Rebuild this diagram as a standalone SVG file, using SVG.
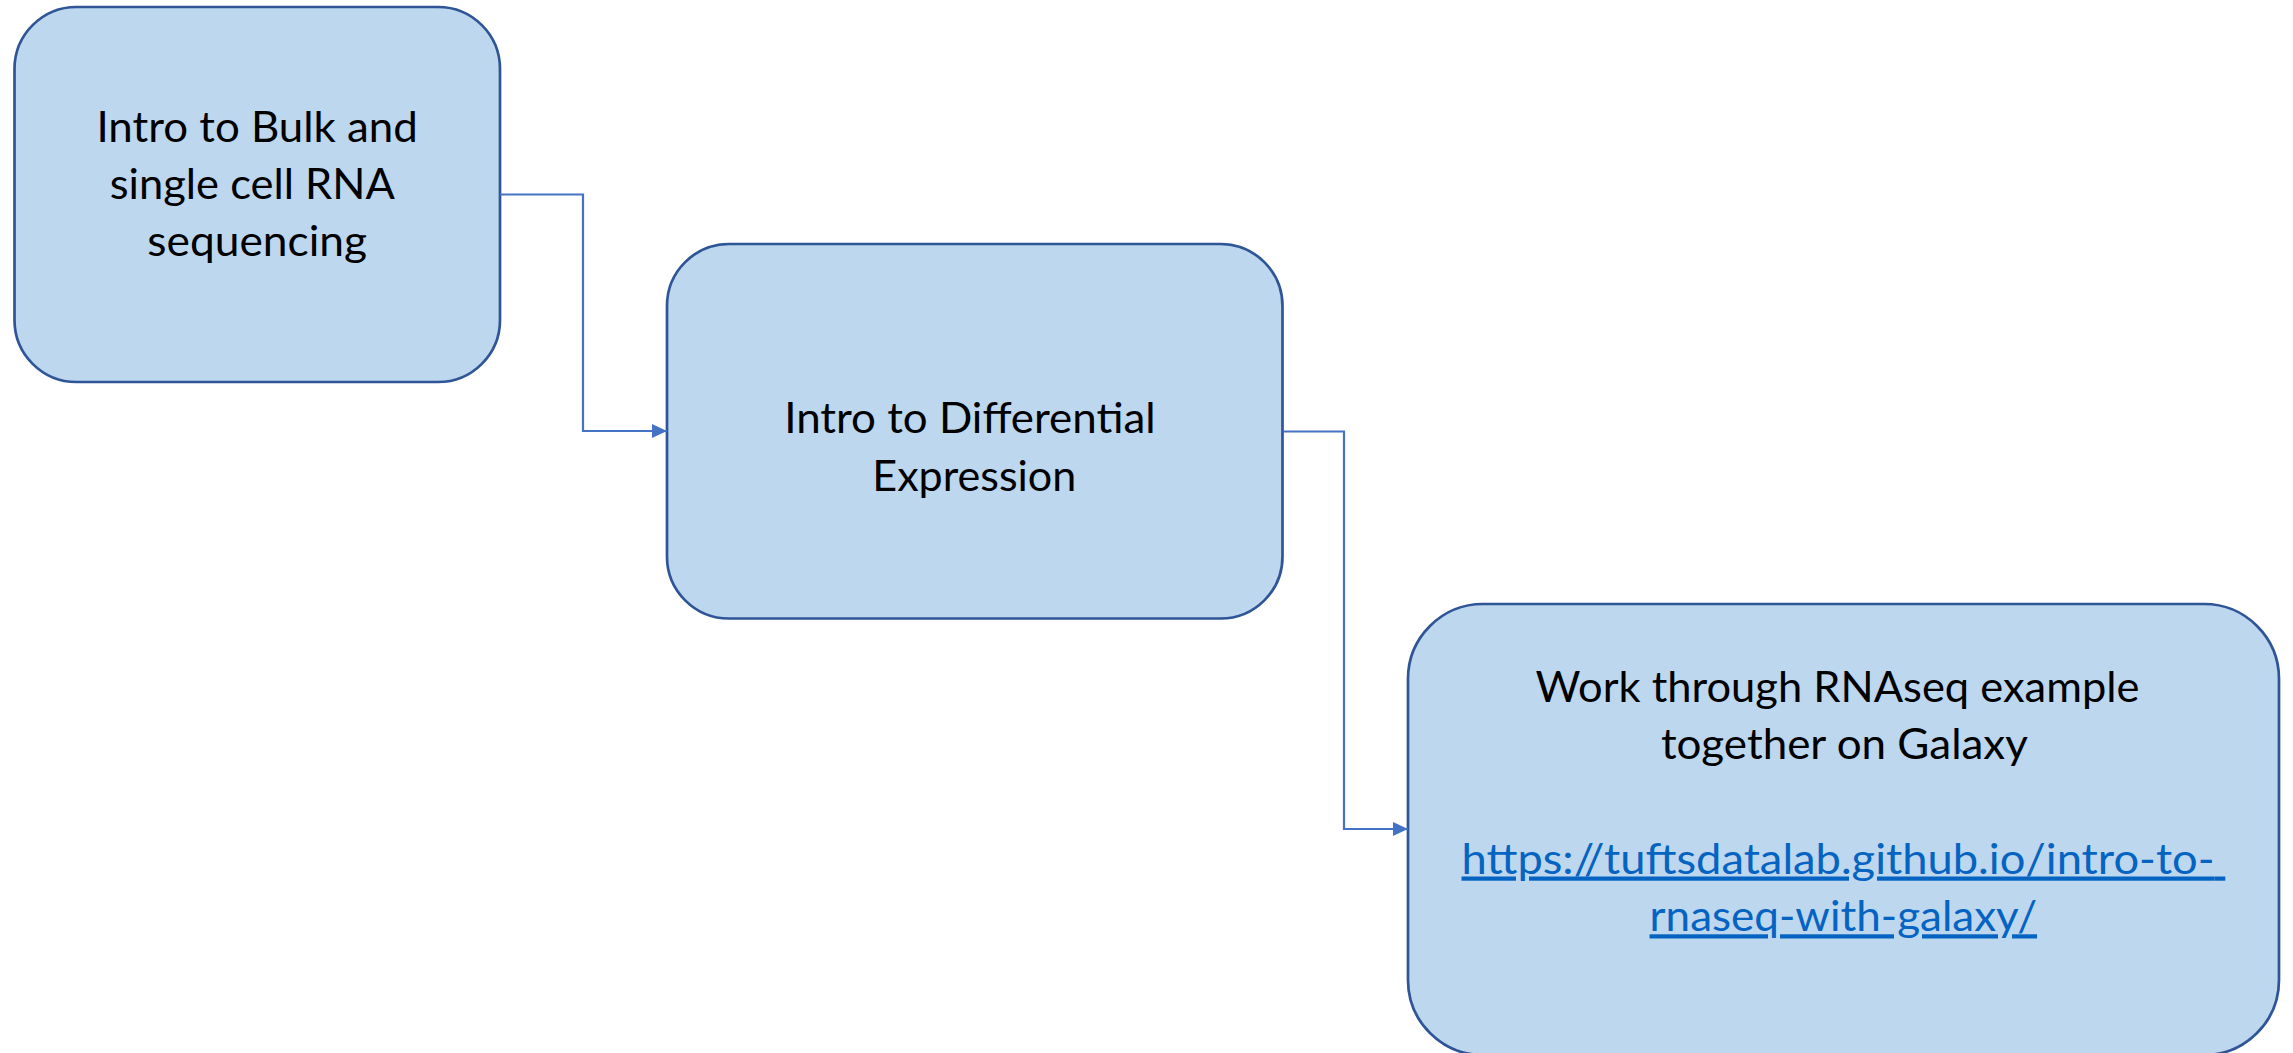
<svg xmlns="http://www.w3.org/2000/svg" width="2293" height="1053" viewBox="0 0 2293 1053">
  <style>
    .box { fill: #BDD7EE; stroke: #2F5597; stroke-width: 2.7; }
    .label { font-family: Lato, "Open Sans", "Liberation Sans", sans-serif; font-size: 42px; fill: #000000; text-anchor: middle; }
    .link { fill: #0563C1; text-decoration: underline; }
    .wire { fill: none; stroke: #4472C4; stroke-width: 2.2; marker-end: url(#arrow); }
  </style>
  <defs>
    <marker id="arrow" markerUnits="userSpaceOnUse" markerWidth="16" markerHeight="14" refX="15" refY="7" orient="auto">
      <path d="M0,0 L15,7 L0,14 Z" fill="#4472C4"/>
    </marker>
  </defs>
  <rect width="2293" height="1053" fill="#FFFFFF"/>

  <!-- step 1 -->
  <g id="node-bulk-sc">
    <rect class="box" x="14.5" y="7" width="485.5" height="375" rx="62" ry="62"/>
    <text class="label">
      <tspan x="262.5" y="141.7" textLength="321.4" lengthAdjust="spacingAndGlyphs">Intro to Bulk and</tspan>
      <tspan x="257" y="199" textLength="283.7" lengthAdjust="spacingAndGlyphs">single cell RNA</tspan>
      <tspan x="257.2" y="256.3" textLength="219.7" lengthAdjust="spacingAndGlyphs">sequencing</tspan>
    </text>
  </g>

  <!-- step 2 -->
  <g id="node-diff-expr">
    <rect class="box" x="667" y="244" width="615.5" height="374.5" rx="62" ry="62"/>
    <text class="label">
      <tspan x="975.3" y="433.3" textLength="371.4" lengthAdjust="spacingAndGlyphs">Intro to Differential</tspan>
      <tspan x="974.3" y="490.6" textLength="204" lengthAdjust="spacingAndGlyphs">Expression</tspan>
    </text>
  </g>

  <!-- step 3 (runs off the bottom edge) -->
  <g id="node-galaxy">
    <rect class="box" x="1408" y="604" width="871" height="451" rx="75" ry="75"/>
    <text class="label">
      <tspan x="1842.9" y="701.7" textLength="604" lengthAdjust="spacingAndGlyphs">Work through RNAseq example</tspan>
      <tspan x="1844.4" y="759" textLength="367" lengthAdjust="spacingAndGlyphs">together on Galaxy</tspan>
    </text>
    <text class="label link">
      <tspan x="1843.4" y="873.5" textLength="753" lengthAdjust="spacingAndGlyphs">https://tuftsdatalab.github.io/intro-to-</tspan>
      <tspan x="1843.3" y="931.3" textLength="387.5" lengthAdjust="spacingAndGlyphs">rnaseq-with-galaxy/</tspan>
    </text>
  </g>

  <!-- elbow connectors -->
  <g id="connectors">
    <path class="wire" d="M500,194.5 H583 V431 H667"/>
    <path class="wire" d="M1282.5,431.5 H1344 V829 H1408"/>
  </g>
</svg>
